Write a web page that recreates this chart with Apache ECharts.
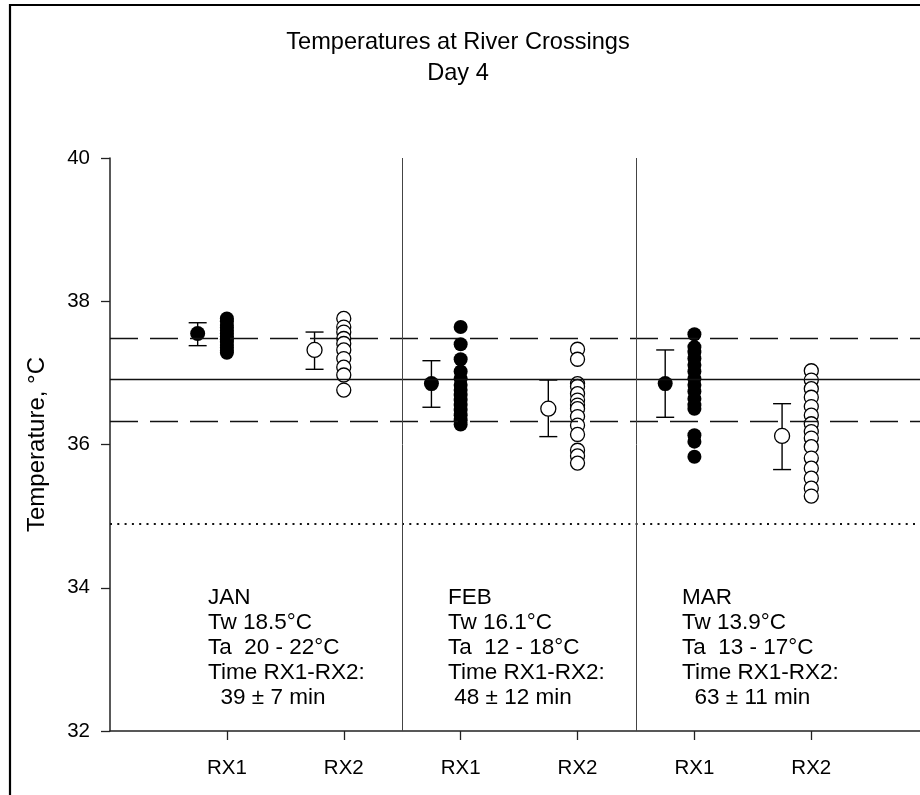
<!DOCTYPE html>
<html>
<head>
<meta charset="utf-8">
<script src="https://cdn.jsdelivr.net/npm/echarts@6/dist/echarts.min.js"></script>
<style>html,body{margin:0;padding:0;background:#fff}#c{width:920px;height:795px}</style>
</head>
<body>
<div id="c"></div>
<script>
// ---- data ----
const categories = ['RX1', 'RX2', 'RX1', 'RX2', 'RX1', 'RX2'];
const yTicks = [32, 34, 36, 38, 40];

const ptsJanRX1 = [37.76, 37.72, 37.67, 37.63, 37.59, 37.55, 37.51, 37.47, 37.43, 37.39, 37.35, 37.31, 37.28];
const ptsJanRX2 = [37.76, 37.64, 37.57, 37.48, 37.41, 37.32, 37.20, 37.08, 36.97, 36.76];
const ptsFebRX1 = [37.64, 37.40, 37.19, 37.02, 36.92, 36.83, 36.76, 36.69, 36.62, 36.55, 36.48, 36.41, 36.34, 36.28];
const ptsFebRX2 = [37.33, 37.19, 36.85, 36.81, 36.71, 36.62, 36.55, 36.50, 36.39, 36.27, 36.14, 35.92, 35.84, 35.74];
const ptsMarRX1 = [37.54, 37.36, 37.29, 37.20, 37.11, 37.02, 36.92, 36.83, 36.74, 36.64, 36.55, 36.50, 36.13, 36.04, 35.83];
const ptsMarRX2 = [37.03, 36.90, 36.78, 36.66, 36.53, 36.41, 36.29, 36.18, 36.09, 35.97, 35.81, 35.67, 35.53, 35.39, 35.28];

const means   = [37.55, 37.32, 36.85, 36.50, 36.85, 36.12];
const errLow  = [37.38, 37.05, 36.52, 36.11, 36.38, 35.65];
const errHigh = [37.70, 37.57, 37.17, 36.90, 37.32, 36.57];

const refMean = 36.91;
const refUpper = 37.48;
const refLower = 36.33;
const refDotted = 34.9;
const separators = [2.5, 4.5];

const months = ['JAN', 'FEB', 'MAR'];
const waterTemp = ['18.5', '16.1', '13.9'];
const airTemp = ['20 - 22', '12 - 18', '13 - 17'];
const travelTime = ['  39 ± 7 min', ' 48 ± 12 min', '  63 ± 11 min'];

// ---- build ----
const allPts = [ptsJanRX1, ptsJanRX2, ptsFebRX1, ptsFebRX2, ptsMarRX1, ptsMarRX2];
const filledPts = [], openPts = [];
allPts.forEach((arr, i) => {
  arr.forEach(v => (i % 2 === 0 ? filledPts : openPts).push([i + 1, v]));
});
const meanOffset = -0.25;
const filledMeans = [], openMeans = [], errData = [];
means.forEach((m, i) => {
  const x = i + 1 + meanOffset;
  (i % 2 === 0 ? filledMeans : openMeans).push([x, m]);
  errData.push([x, errLow[i], errHigh[i]]);
});

const FONT = '"Liberation Sans", Arial, sans-serif';
const chart = echarts.init(document.getElementById('c'), null, {renderer: 'canvas'});

const annotX = [208, 448, 682];
const graphics = [
  {type: 'line', shape: {x1: 10, y1: 4, x2: 10, y2: 795}, style: {stroke: '#000', lineWidth: 2.2}, silent: true},
  {type: 'line', shape: {x1: 9, y1: 5, x2: 920, y2: 5}, style: {stroke: '#000', lineWidth: 2.2}, silent: true}
];
months.forEach((m, i) => {
  graphics.push({
    type: 'text', left: annotX[i], top: 585, silent: true,
    style: {
      text: m + '\nTw ' + waterTemp[i] + '°C\nTa  ' + airTemp[i] + '°C\nTime RX1-RX2:\n' + travelTime[i],
      font: '22.5px ' + FONT, fill: '#000', lineHeight: 25
    }
  });
});

const option = {
  animation: false,
  backgroundColor: '#fff',
  title: {
    text: 'Temperatures at River Crossings\nDay 4',
    left: 458, top: 27, textAlign: 'center', padding: 0,
    textStyle: {fontFamily: FONT, fontSize: 23.6, fontWeight: 'normal', color: '#000', lineHeight: 31}
  },
  grid: {left: 110, top: 158, right: 0, bottom: 64, containLabel: false, outerBoundsMode: 'none'},
  xAxis: {
    type: 'value', min: 0, max: 6.93,
    axisLine: {show: true, lineStyle: {color: '#222', width: 1.5}},
    axisTick: {show: true, length: 9, inside: false, customValues: [1, 2, 3, 4, 5, 6], lineStyle: {color: '#222', width: 1.3}},
    axisLabel: {
      customValues: [1, 2, 3, 4, 5, 6],
      formatter: v => categories[Math.round(v) - 1] || '',
      margin: 27, fontFamily: FONT, fontSize: 20.5, color: '#000'
    },
    splitLine: {show: false}
  },
  yAxis: {
    type: 'value', min: yTicks[0], max: yTicks[yTicks.length - 1], interval: 2,
    name: 'Temperature, °C', nameLocation: 'middle', nameGap: 61, nameRotate: 90,
    nameTextStyle: {fontFamily: FONT, fontSize: 24, color: '#000'},
    axisLine: {show: true, lineStyle: {color: '#222', width: 1.5}},
    axisTick: {show: true, length: 9, inside: false, lineStyle: {color: '#222', width: 1.3}},
    axisLabel: {margin: 20, fontFamily: FONT, fontSize: 20.5, color: '#000'},
    splitLine: {show: false}
  },
  graphic: graphics,
  series: [
    {
      type: 'line', data: [], z: 1, silent: true,
      markLine: {
        silent: true, symbol: 'none', animation: false,
        label: {show: false},
        data: [
          {yAxis: refUpper, lineStyle: {type: [28, 12], color: '#111', width: 1.4}},
          {yAxis: refMean, lineStyle: {type: 'solid', color: '#111', width: 1.4}},
          {yAxis: refLower, lineStyle: {type: [28, 12], color: '#111', width: 1.4}},
          {yAxis: refDotted, lineStyle: {type: [2, 5.3], color: '#111', width: 2}},
          {xAxis: separators[0], lineStyle: {type: 'solid', color: '#444', width: 1}},
          {xAxis: separators[1], lineStyle: {type: 'solid', color: '#444', width: 1}}
        ]
      }
    },
    {
      type: 'custom', z: 2, silent: true,
      data: errData,
      renderItem: function (params, api) {
        const x = api.value(0);
        const lo = api.coord([x, api.value(1)]);
        const hi = api.coord([x, api.value(2)]);
        const hw = 9;
        const st = {stroke: '#000', lineWidth: 1.4};
        return {
          type: 'group', children: [
            {type: 'line', shape: {x1: lo[0], y1: lo[1], x2: hi[0], y2: hi[1]}, style: st},
            {type: 'line', shape: {x1: lo[0] - hw, y1: lo[1], x2: lo[0] + hw, y2: lo[1]}, style: st},
            {type: 'line', shape: {x1: hi[0] - hw, y1: hi[1], x2: hi[0] + hw, y2: hi[1]}, style: st}
          ]
        };
      }
    },
    {type: 'scatter', z: 3, silent: true, data: filledMeans, symbol: 'circle', symbolSize: 15, itemStyle: {color: '#000', opacity: 1}},
    {type: 'scatter', z: 3, silent: true, data: openMeans, symbol: 'circle', symbolSize: 15, itemStyle: {color: '#fff', borderColor: '#000', borderWidth: 1.3, opacity: 1}},
    {type: 'scatter', z: 3, silent: true, data: filledPts, symbol: 'circle', symbolSize: 14, itemStyle: {color: '#000', opacity: 1}},
    {type: 'scatter', z: 3, silent: true, data: openPts, symbol: 'circle', symbolSize: 14, itemStyle: {color: '#fff', borderColor: '#000', borderWidth: 1.3, opacity: 1}}
  ]
};
chart.setOption(option);
</script>
</body>
</html>
